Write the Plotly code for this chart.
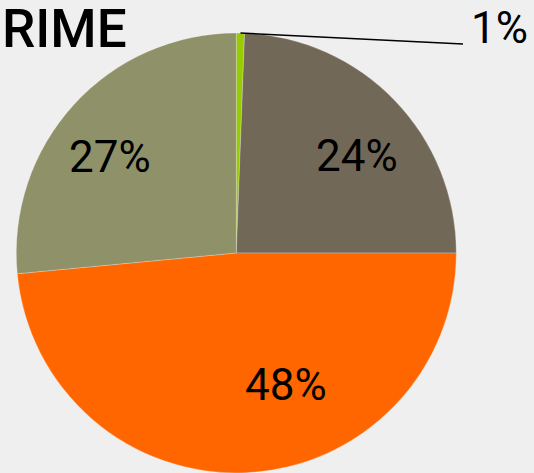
import math
import plotly.graph_objects as go

labels = ["Green", "Brown", "Orange", "Olive"]
values = [0.6, 24.4, 48.5, 26.5]
pct_text = ["1%", "24%", "48%", "27%"]
colors = ["#99cc00", "#726858", "#ff6600", "#8f9268"]
title_text = "RIME"

W, H = 534, 473
dom_x = [15.6 / W, 457.0 / W]
dom_y = [0.0, (H - 33.0) / H]

fig = go.Figure(go.Pie(
    labels=labels,
    values=values,
    textinfo="none",
    marker=dict(colors=colors, line=dict(color="rgba(255,255,255,0.3)", width=0.8)),
    sort=False,
    direction="clockwise",
    rotation=0,
    domain=dict(x=dom_x, y=dom_y),
    showlegend=False,
    hoverinfo="label+percent",
))

# pie geometry (pixels, origin top-left)
cx_px = (dom_x[0] + dom_x[1]) / 2 * W
cy_px = H - (dom_y[0] + dom_y[1]) / 2 * H
r_px = min((dom_x[1] - dom_x[0]) * W, (dom_y[1] - dom_y[0]) * H) / 2
total = sum(values)

# label placement (Excel best-fit style): radius fraction and angle nudge per slice
label_r = [None, 0.705, 0.64, 0.72]
label_nudge = [0, 5.2, -18.0, -5.2]

cum = 0.0
mids = []
for v in values:
    mids.append((cum + v / 2) / total * 360.0)
    cum += v

for i in range(1, len(values)):
    a = math.radians(mids[i] + label_nudge[i])
    px = cx_px + label_r[i] * r_px * math.sin(a)
    py = cy_px - label_r[i] * r_px * math.cos(a)
    fig.add_annotation(text=pct_text[i], xref="paper", yref="paper",
                       x=px / W, y=1 - py / H, xanchor="center", yanchor="middle",
                       showarrow=False,
                       font=dict(family="Roboto", size=44, color="#000000"))

# leader for the smallest slice
a0 = math.radians(mids[0])
sx = cx_px + r_px * math.sin(a0)
sy = cy_px - r_px * math.cos(a0)
ex, ey = 463.0, 44.0
fig.add_shape(type="line", xref="paper", yref="paper",
              x0=sx / W, y0=1 - sy / H, x1=ex / W, y1=1 - ey / H,
              line=dict(color="#000000", width=1.5))
fig.add_annotation(text=pct_text[0], xref="paper", yref="paper",
                   x=(ex + 36) / W, y=1 - 28.0 / H, xanchor="center", yanchor="middle",
                   showarrow=False,
                   font=dict(family="Roboto", size=44, color="#000000"))

fig.add_annotation(text=title_text, xref="paper", yref="paper", x=0, y=1,
                   xanchor="left", yanchor="top", showarrow=False, xshift=0, yshift=4,
                   font=dict(family="Roboto", size=53, color="#000000", weight=500))

fig.update_layout(
    width=W, height=H,
    margin=dict(l=0, r=0, t=0, b=0),
    paper_bgcolor="#efefef",
    plot_bgcolor="#efefef",
)

fig.write_html("out.html", config={"displayModeBar": False},
               post_script="document.body.style.margin='0px'; document.body.style.background='#efefef';")
